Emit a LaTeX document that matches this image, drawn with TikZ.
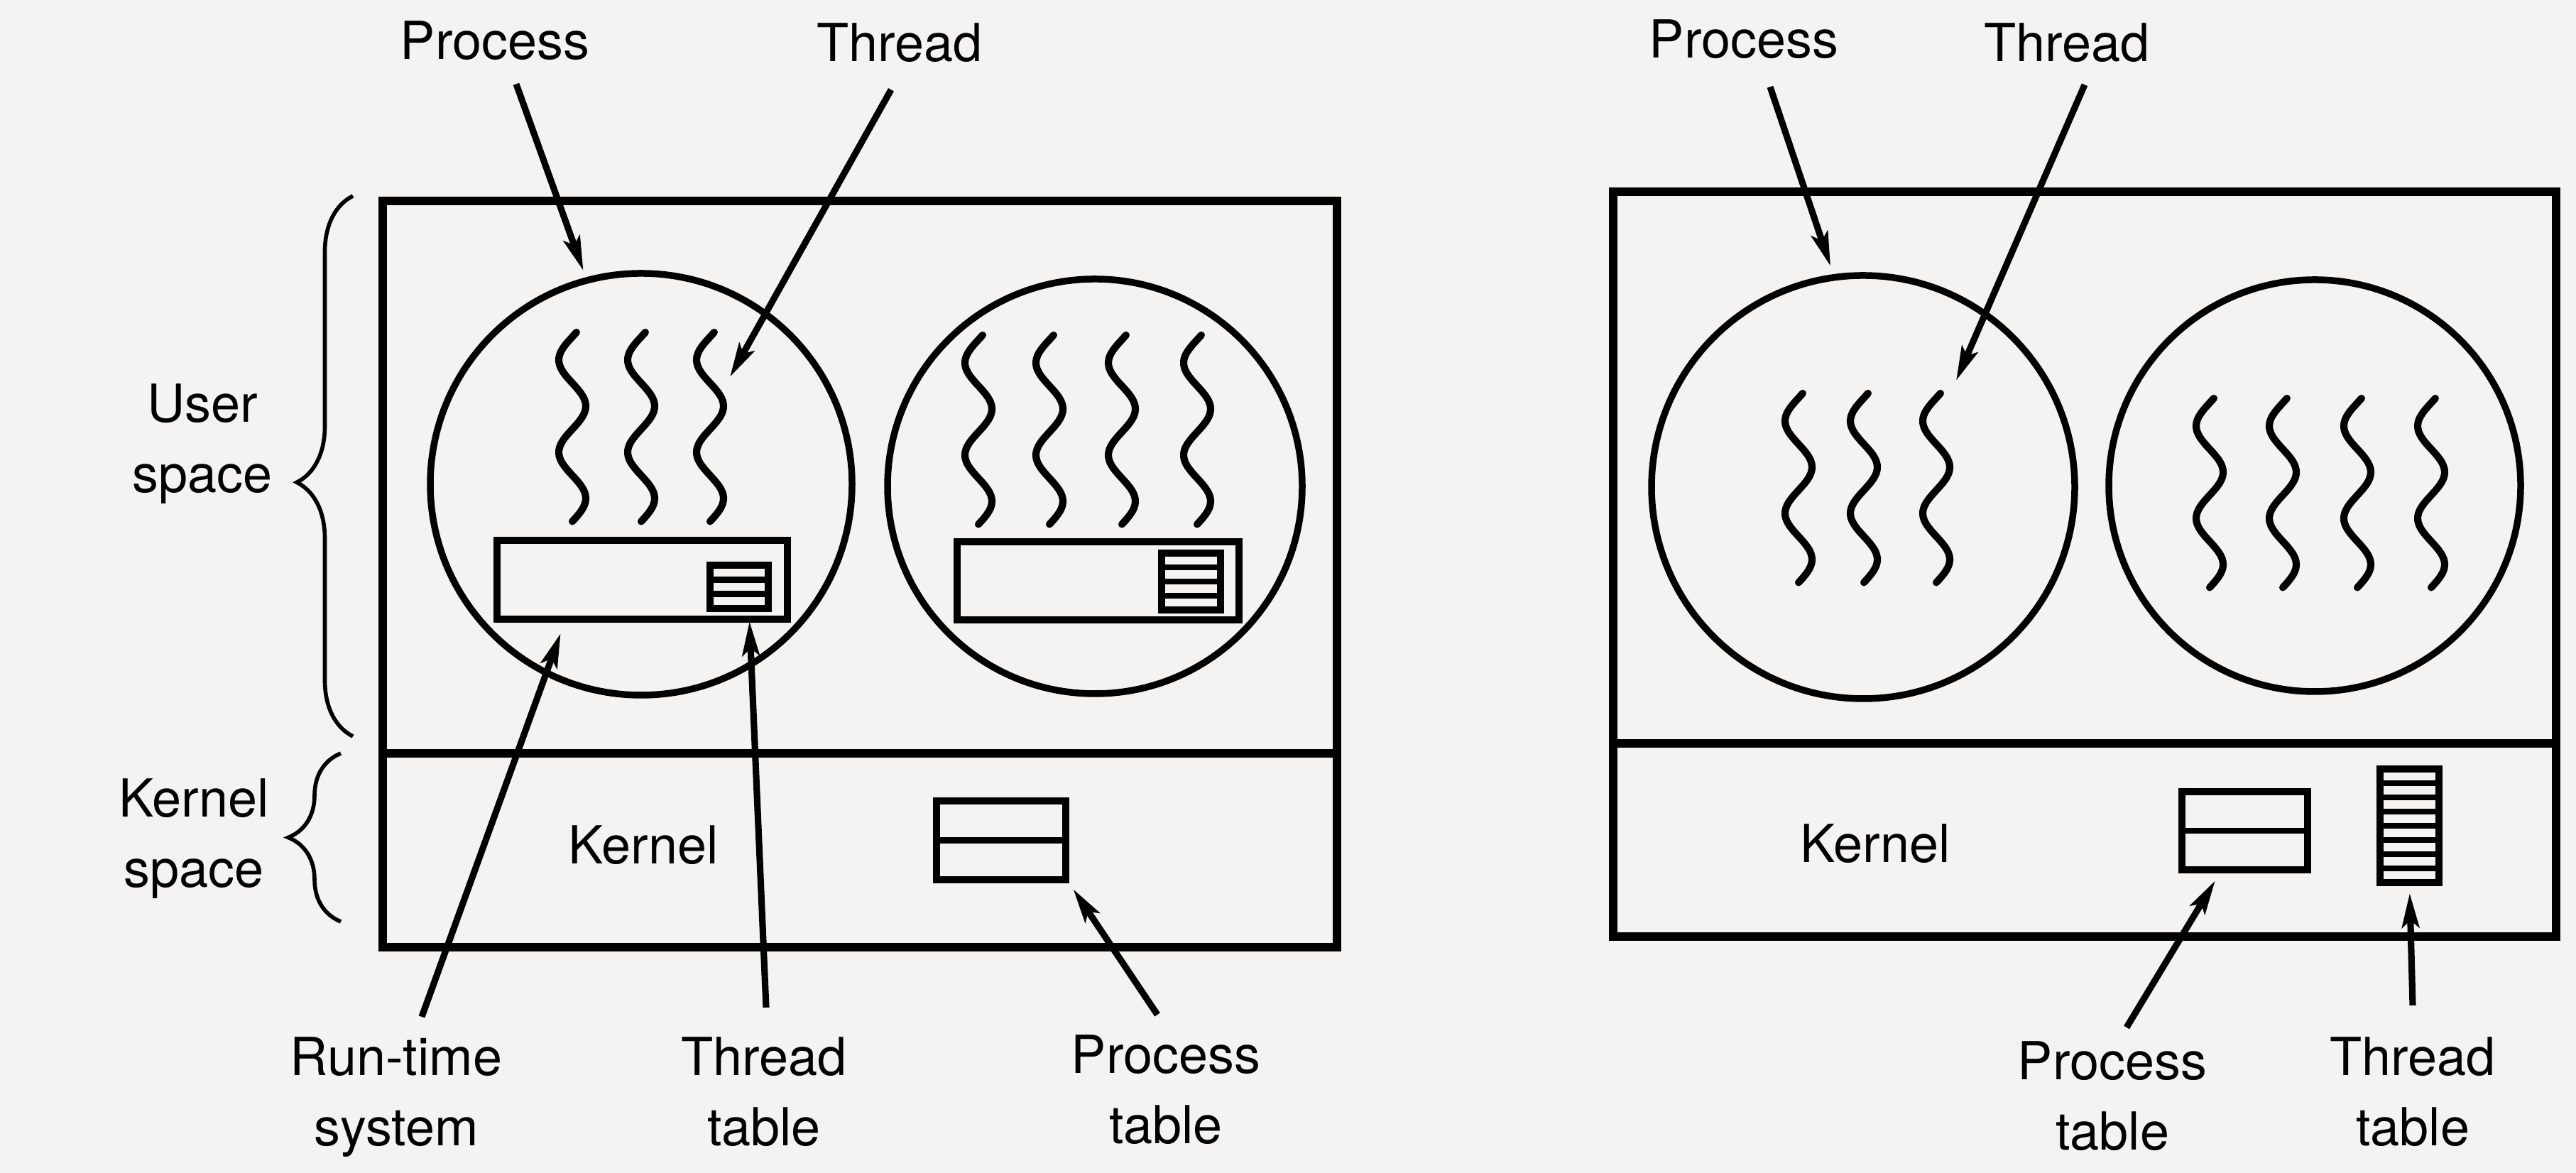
\documentclass[tikz,border=0pt]{standalone}
\usepackage{fontspec}
\setmainfont{TeX Gyre Heros}
\usetikzlibrary{arrows.meta,decorations.pathreplacing}
\definecolor{paper}{HTML}{F4F3F2}
\newcommand{\wavethread}[2]{%
  \draw[wave] plot[domain=-0.05:2, samples=41, smooth, variable=\t]
    ({#1-0.19*sin(360*\t)},{#2-1.3*(\t+0.05)});}

\begin{document}
\begin{tikzpicture}[
  font=\fontsize{21}{28}\selectfont,
  line width=2.8pt,
  frame/.style={draw, line width=3.2pt},
  proc/.style={circle, draw, line width=2.7pt, inner sep=0pt},
  box/.style={draw, rectangle, inner sep=0pt},
  lbl/.style={align=center, inner sep=1mm},
  wave/.style={line width=2.9pt, line cap=round},
  arrow/.style={-{Stealth[length=4.8mm, width=2.4mm, inset=1mm]}, line width=2.6pt}
]
\fill[paper] (0,0) rectangle (36.28,16.52);
\useasboundingbox (0,0) rectangle (36.28,16.52);

% user-level threads
\draw[frame] (5.39,3.18) rectangle (18.83,13.69);
\draw[frame] (5.39,5.91) -- (18.83,5.91);
\node[proc, minimum size=5.94cm] (proc1) at (9.03,9.70) {};
\node[proc, minimum size=5.84cm] (proc2) at (15.42,9.67) {};
\foreach \x in {8.06,9.03,10.00} \wavethread{\x}{11.84};
\foreach \x in {13.78,14.78,15.80,16.86} \wavethread{\x}{11.80};
\node[box, minimum width=4.09cm, minimum height=1.11cm] (rts1) at (9.045,8.355) {};
\node[box, minimum width=3.97cm, minimum height=1.10cm] (rts2) at (15.465,8.34) {};
\node[box, minimum width=0.82cm, minimum height=0.61cm] (ttab1) at (10.41,8.255) {};
\foreach \k in {1,2} \draw[line width=2.4pt] (10.00,{7.95+0.61*\k/3}) -- (10.82,{7.95+0.61*\k/3});
\node[box, minimum width=0.83cm, minimum height=0.80cm] (ttab2) at (16.775,8.33) {};
\foreach \k in {1,2,3} \draw[line width=2.4pt] (16.36,{7.93+0.2*\k}) -- (17.19,{7.93+0.2*\k});
\node (kern1) at (9.06,4.62) {Kernel};
\node[box, minimum width=1.82cm, minimum height=1.11cm] (ptab1) at (14.10,4.685) {};
\draw[line width=2.4pt] (ptab1.west) -- (ptab1.east);

\draw[decorate, decoration={brace, amplitude=7.9mm, aspect=0.47}, line width=1.6pt] (4.97,6.15) -- (4.97,13.76);
\draw[decorate, decoration={brace, amplitude=7.4mm}, line width=1.6pt] (4.80,3.54) -- (4.80,5.91);
\node[lbl, anchor=north] (luser) at (2.85,11.26) {User\\space};
\node[lbl, anchor=north] (lkern) at (2.73,5.70) {Kernel\\space};

% kernel-level threads
\draw[frame] (22.72,3.33) rectangle (36.00,13.82);
\draw[frame] (22.72,6.05) -- (36.00,6.05);
\node[proc, minimum size=5.96cm] (proc3) at (26.24,9.66) {};
\node[proc, minimum size=5.80cm] (proc4) at (32.60,9.68) {};
\foreach \x in {25.33,26.25,27.27} \wavethread{\x}{10.98};
\foreach \x in {31.12,32.15,33.20,34.24} \wavethread{\x}{10.91};
\node (kern2) at (26.41,4.64) {Kernel};
\node[box, minimum width=1.77cm, minimum height=1.10cm] (ptab2) at (31.615,4.82) {};
\draw[line width=2.4pt] (ptab2.west) -- (ptab2.east);
\node[box, minimum width=0.83cm, minimum height=1.60cm] (ttab3) at (33.935,4.89) {};
\foreach \k in {1,...,7} \draw[line width=2.4pt] (33.52,{4.09+0.2*\k}) -- (34.35,{4.09+0.2*\k});

% labels
\node[lbl] (lproc1) at (6.97,15.95) {Process};
\node[lbl] (lthr1) at (12.67,15.92) {Thread};
\node[lbl] (lproc2) at (24.56,15.97) {Process};
\node[lbl] (lthr2) at (29.11,15.92) {Thread};
\node[lbl, anchor=north] (lrts) at (5.58,2.06) {Run-time\\system};
\node[lbl, anchor=north] (lttab1) at (10.76,2.06) {Thread\\table};
\node[lbl, anchor=north] (lptab1) at (16.42,2.09) {Process\\table};
\node[lbl, anchor=north] (lptab2) at (29.75,2.00) {Process\\table};
\node[lbl, anchor=north] (lttab2) at (33.98,2.06) {Thread\\table};
\coordinate (thr1) at (10.28,11.21);
\coordinate (thr3) at (27.55,11.16);

\draw[arrow, shorten >=1mm] ([xshift=3mm, yshift=-1.9mm]lproc1.south) -- (proc1.105);
\draw[arrow] ([xshift=-1.2mm, yshift=-2.4mm]lthr1.south) -- (thr1);
\draw[arrow, shorten >=1.2mm] ([xshift=3.7mm, yshift=-2.5mm]lproc2.south) -- (proc3.98);
\draw[arrow] ([xshift=2.5mm, yshift=-1.7mm]lthr2.south) -- (thr3);
\draw[arrow, shorten >=1.6mm] ([xshift=3.6mm, yshift=1.4mm]lrts.north) -- ([xshift=10mm]rts1.south west);
\draw[arrow, shorten >=1.3mm] ([xshift=0.3mm, yshift=2.7mm]lttab1.north) -- ([xshift=1.4mm]ttab1.south);
\draw[arrow, shorten >=1mm] ([xshift=-1.2mm, yshift=1.4mm]lptab1.north) -- (ptab1.south east);
\draw[arrow, shorten >=1.2mm] ([xshift=2mm, yshift=0.5mm]lptab2.north) -- ([xshift=5.8mm]ptab2.south west);
\draw[arrow, shorten >=1mm] ([yshift=3mm]lttab2.north) -- (ttab3.south);
\end{tikzpicture}
\end{document}
